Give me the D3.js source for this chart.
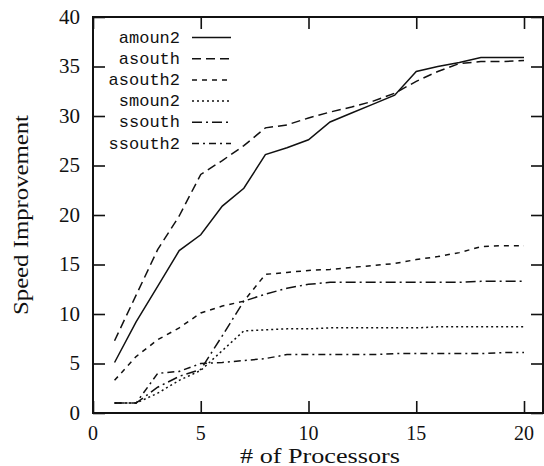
<!DOCTYPE html>
<html>
<head>
<meta charset="utf-8">
<script src="https://cdn.jsdelivr.net/npm/d3@7"></script>
<style>
  html, body { margin: 0; padding: 0; background: #fff; }
  svg { display: block; }
</style>
</head>
<body>
<svg id="chart" width="544" height="466"></svg>
<script>
// ---- data ----
const processors = [1,2,3,4,5,6,7,8,9,10,11,12,13,14,15,16,17,18,19,20];
const amoun2  = [5.1, 9.2, 12.8, 16.4, 18.0, 20.9, 22.7, 26.1, 26.8, 27.6, 29.4, 30.3, 31.2, 32.1, 34.5, 35.0, 35.4, 35.9, 35.9, 35.9];
const asouth  = [7.3, 11.9, 16.5, 19.9, 24.1, 25.5, 27.0, 28.8, 29.1, 29.8, 30.4, 30.9, 31.5, 32.3, 33.5, 34.5, 35.3, 35.5, 35.5, 35.6];
const asouth2 = [3.3, 5.7, 7.4, 8.6, 10.1, 10.8, 11.3, 14.0, 14.2, 14.4, 14.5, 14.7, 14.9, 15.1, 15.5, 15.8, 16.2, 16.8, 16.9, 16.9];
const smoun2  = [1.0, 1.0, 2.0, 3.3, 4.3, 6.3, 8.3, 8.4, 8.5, 8.5, 8.6, 8.6, 8.6, 8.6, 8.6, 8.7, 8.7, 8.7, 8.7, 8.7];
const ssouth  = [1.0, 1.0, 2.6, 3.7, 4.4, 7.8, 11.3, 12.0, 12.6, 13.0, 13.2, 13.2, 13.2, 13.2, 13.2, 13.2, 13.2, 13.3, 13.3, 13.3];
const ssouth2 = [1.0, 1.0, 4.0, 4.2, 5.0, 5.1, 5.3, 5.5, 5.9, 5.9, 5.9, 5.9, 5.9, 6.0, 6.0, 6.0, 6.0, 6.0, 6.1, 6.1];
const seriesNames = ["amoun2", "asouth", "asouth2", "smoun2", "ssouth", "ssouth2"];
const seriesValues = [amoun2, asouth, asouth2, smoun2, ssouth, ssouth2];
const xTicks = [0, 5, 10, 15, 20];
const yTicks = [0, 5, 10, 15, 20, 25, 30, 35, 40];
const xLabel = "# of Processors";
const yLabel = "Speed Improvement";

(function () {
// ---- styles ----
const dashes = {
  amoun2: null,
  asouth: "9,5",
  asouth2: "5,5",
  smoun2: "2,3",
  ssouth: "10,4,2,4",
  ssouth2: "7,4,2,4"
};

// ---- layout ----
const pLeft = 93, pTop = 17, pBottom = 413, pRight = 544;
const x = d3.scaleLinear().domain([0, 20]).range([pLeft, 524]);
const y = d3.scaleLinear().domain([0, 40]).range([pBottom, pTop]);
const tickLen = 12;
const ink = "#111";

const svg = d3.select("#chart");
svg.append("rect").attr("width", 544).attr("height", 466).attr("fill", "#fff");

svg.append("clipPath").attr("id", "clip")
  .append("rect").attr("x", pLeft).attr("y", pTop).attr("width", pRight - pLeft).attr("height", pBottom - pTop);

// series lines
const line = d3.line().x((d, i) => x(processors[i])).y(d => y(d));
const plot = svg.append("g").attr("clip-path", "url(#clip)");
seriesNames.forEach((name, k) => {
  plot.append("path")
    .datum(seriesValues[k])
    .attr("d", line)
    .attr("fill", "none")
    .attr("stroke", ink)
    .attr("stroke-width", 1.5)
    .attr("stroke-dasharray", dashes[name]);
});

// axes (inward ticks on all sides)
const axisBottom = d3.axisBottom(x).tickValues(xTicks).tickSize(-tickLen).tickFormat("");
const axisTop = d3.axisTop(x).tickValues(xTicks).tickSize(-tickLen).tickFormat("");
const axisLeft = d3.axisLeft(y).tickValues(yTicks).tickSize(-tickLen).tickFormat("");
const axisRight = d3.axisRight(y).tickValues(yTicks).tickSize(-tickLen).tickFormat("");

function styleAxis(g) {
  g.select(".domain").remove();
  g.selectAll(".tick line").attr("stroke", ink).attr("stroke-width", 1.6);
}
svg.append("g").attr("transform", `translate(0,${pBottom})`).call(axisBottom).call(styleAxis);
svg.append("g").attr("transform", `translate(0,${pTop})`).call(axisTop).call(styleAxis);
svg.append("g").attr("transform", `translate(${pLeft},0)`).call(axisLeft).call(styleAxis);
svg.append("g").attr("transform", `translate(${pRight - 1},0)`).call(axisRight).call(styleAxis);

// frame
svg.append("rect")
  .attr("x", pLeft).attr("y", pTop)
  .attr("width", pRight - 1 - pLeft).attr("height", pBottom - pTop)
  .attr("fill", "none").attr("stroke", ink).attr("stroke-width", 2);

// tick labels
const serif = "'Liberation Serif', 'Times New Roman', serif";
svg.append("g").selectAll("text").data(xTicks).join("text")
  .attr("x", d => x(d)).attr("y", 440)
  .attr("text-anchor", "middle")
  .attr("font-family", serif).attr("font-size", 20).attr("fill", ink)
  .text(d => d);
svg.append("g").selectAll("text").data(yTicks).join("text")
  .attr("x", 80).attr("y", d => y(d))
  .attr("dy", "0.33em")
  .attr("text-anchor", "end")
  .attr("font-family", serif).attr("font-size", 21).attr("fill", ink)
  .text(d => d);

// axis titles
svg.append("text")
  .attr("x", 320).attr("y", 463)
  .attr("text-anchor", "middle")
  .attr("font-family", serif).attr("font-size", 20).attr("fill", ink)
  .attr("textLength", 160).attr("lengthAdjust", "spacingAndGlyphs")
  .text(xLabel);
svg.append("text")
  .attr("transform", "translate(28,215) rotate(-90)")
  .attr("text-anchor", "middle")
  .attr("font-family", serif).attr("font-size", 21).attr("fill", ink)
  .attr("textLength", 200).attr("lengthAdjust", "spacingAndGlyphs")
  .text(yLabel);

// legend
const legend = svg.append("g");
seriesNames.forEach((name, k) => {
  const ly = 37.5 + k * 21.2;
  legend.append("text")
    .attr("x", 180).attr("y", ly + 5)
    .attr("text-anchor", "end")
    .attr("font-family", "'Liberation Mono', 'Courier New', monospace")
    .attr("font-size", 17).attr("fill", ink)
    .text(name);
  legend.append("line")
    .attr("x1", 192).attr("x2", 231)
    .attr("y1", ly).attr("y2", ly)
    .attr("stroke", ink).attr("stroke-width", 1.5)
    .attr("stroke-dasharray", dashes[name]);
});
})();
</script>
</body>
</html>
